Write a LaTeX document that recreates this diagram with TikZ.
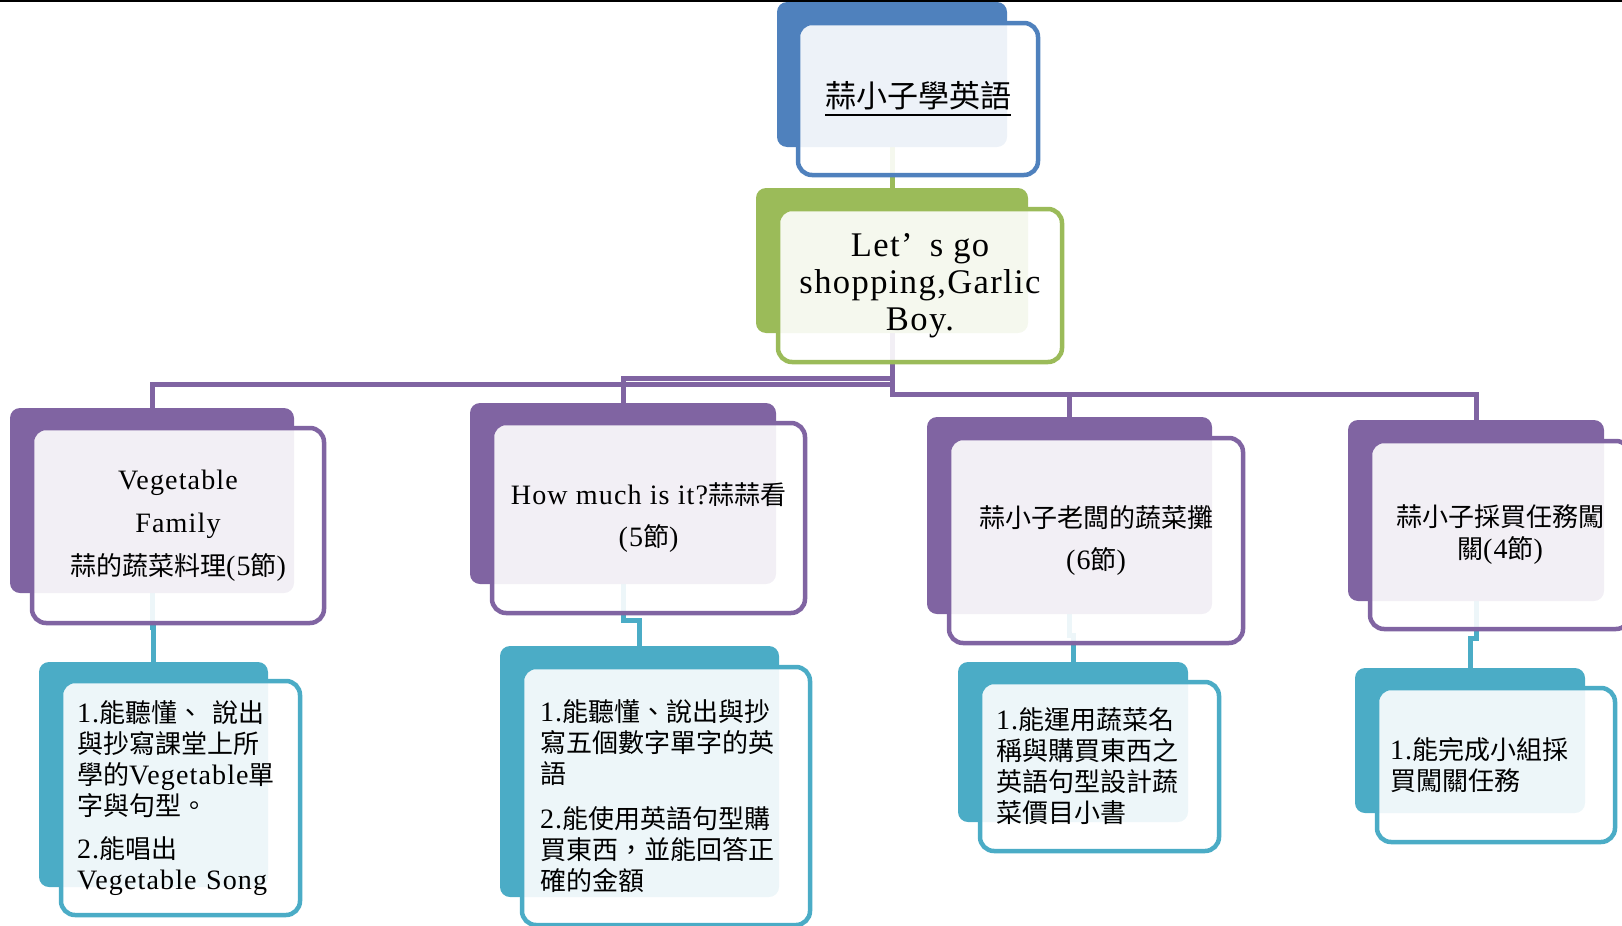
\documentclass[tikz,border=0pt]{standalone}
\usepackage{fontspec}
\setmainfont{Liberation Serif}[Scale=1.08, LetterSpace=4]
\newfontfamily\cj{Noto Sans CJK TC}
\usetikzlibrary{backgrounds}
\definecolor{ablue}{HTML}{4F81BD}
\definecolor{agreen}{HTML}{9BBB59}
\definecolor{apurple}{HTML}{8064A2}
\definecolor{ateal}{HTML}{4BACC6}
\newcommand\zh[1]{{\cj #1}}
\newcommand\ulbox[1]{\setbox0=\hbox{#1}\dimen0=\wd0\vtop{\box0\kern4pt\hrule height 2pt width \dimen0}}
\begin{document}
\begin{tikzpicture}[x=1pt,y=-1pt,
  back/.style={fill=#1, draw=none, rounded corners=10pt, inner sep=0pt, outer sep=0pt},
  front/.style={draw=#1, line width=4.5pt, fill=white, fill opacity=0.9, text opacity=1, rounded corners=14pt, inner sep=0pt, outer sep=0pt},
  conn/.style={draw=#1, line width=5pt},
  ]
\useasboundingbox (0,0) rectangle (1622,926);

% root
\node[back=ablue, minimum width=230pt, minimum height=145pt] (b0) at (892,74.5) {};
\node[front=ablue, minimum width=240pt, minimum height=152pt, font=\fontsize{31}{37}\selectfont] (f0) at (918,99) {\ulbox{\zh{蒜小子學英語}}};

% level 1
\node[back=agreen, minimum width=272pt, minimum height=145pt] (g0) at (892,260.5) {};
\node[front=agreen, minimum width=284pt, minimum height=153pt, align=center, font=\fontsize{32}{37}\selectfont] (g1) at (920,285.5) {Let’\hspace{0.5em}s go\\shopping,Garlic\\Boy.};

% level 2
\node[back=apurple, minimum width=284pt, minimum height=185pt] (c1) at (152,500.5) {};
\node[front=apurple, minimum width=292pt, minimum height=195pt, align=center, font=\fontsize{26}{43}\selectfont] (c1f) at (178,525.5) {Vegetable\\Family\\\zh{蒜的蔬菜料理}(5\zh{節})};

\node[back=apurple, minimum width=306pt, minimum height=181pt] (c2) at (623,493.5) {};
\node[front=apurple, minimum width=313pt, minimum height=190pt, align=center, font=\fontsize{26}{42}\selectfont] (c2f) at (648.5,518) {How much is it?\zh{蒜蒜看}\\(5\zh{節})};

\node[back=apurple, minimum width=285pt, minimum height=197pt] (c3) at (1069.5,515.5) {};
\node[front=apurple, minimum width=294pt, minimum height=205pt, align=center, font=\fontsize{26}{42}\selectfont] (c3f) at (1096,540.5) {\zh{蒜小子老闆的蔬菜攤}\\(6\zh{節})};

\node[back=apurple, minimum width=256pt, minimum height=181pt] (c4) at (1476,510.5) {};
\node[front=apurple, minimum width=260pt, minimum height=188pt, align=center, font=\fontsize{26}{32}\selectfont] (c4f) at (1500,535) {\zh{蒜小子採買任務闖}\\\zh{關}(4\zh{節})};

% level 3
\node[back=ateal, minimum width=229pt, minimum height=225pt] (d1) at (153.5,774.5) {};
\node[front=ateal, minimum width=239pt, minimum height=234pt, text width=207pt, align=left, font=\fontsize{26}{31}\selectfont] (d1f) at (180.5,798) {1.\zh{能聽懂、} \zh{說出}\\\zh{與抄寫課堂上所}\\\zh{學的}Vegetable\zh{單}\\\zh{字與句型。}\\[12pt]2.\zh{能唱出}\\Vegetable Song};

\node[back=ateal, minimum width=279pt, minimum height=251pt] (d2) at (639.5,771.5) {};
\node[front=ateal, minimum width=288pt, minimum height=258pt, text width=252pt, align=left, font=\fontsize{26}{31}\selectfont] (d2f) at (666,796) {1.\zh{能聽懂、說出與抄}\\\zh{寫五個數字單字的英}\\\zh{語}\\[14pt]2.\zh{能使用英語句型購}\\\zh{買東西，並能回答正}\\\zh{確的金額}};

\node[back=ateal, minimum width=230pt, minimum height=160pt] (d3) at (1073,742) {};
\node[front=ateal, minimum width=239pt, minimum height=169pt, text width=207pt, align=left, font=\fontsize{26}{31}\selectfont] (d3f) at (1099.5,766.5) {1.\zh{能運用蔬菜名}\\\zh{稱與購買東西之}\\\zh{英語句型設計蔬}\\\zh{菜價目小書}};

\node[back=ateal, minimum width=230pt, minimum height=145pt] (d4) at (1470,740.5) {};
\node[front=ateal, minimum width=238pt, minimum height=154pt, text width=212pt, align=left, font=\fontsize{26}{31}\selectfont] (d4f) at (1496,765) {1.\zh{能完成小組採}\\\zh{買闖關任務}};

\begin{scope}[on background layer]
\coordinate (tl) at (0,1);
\coordinate (tr) at (1622,1);
\draw[line width=1.5pt, black] (tl) -- (tr);
\draw[conn=agreen] (b0.south) -- (b0.south |- g0.north);
\draw[conn=apurple] (g0.south) |- (c1.north |- 0,384.5) -- (c1.north);
\draw[conn=apurple] (g0.south) |- (c2.north |- 0,378.5) -- (c2.north);
\draw[conn=apurple] (g0.south) |- (c3.north |- 0,394.5) -- (c3.north);
\draw[conn=apurple] (g0.south) |- (c4.north |- 0,394.5) -- (c4.north);
\draw[conn=ateal] (c1.south) |- (d1.north |- 0,627) -- (d1.north);
\draw[conn=ateal] (c2.south) |- (d2.north |- 0,620) -- (d2.north);
\draw[conn=ateal] (c3.south) |- (d3.north |- 0,635) -- (d3.north);
\draw[conn=ateal] (c4.south) |- (d4.north |- 0,638) -- (d4.north);
\end{scope}
\end{tikzpicture}
\end{document}
